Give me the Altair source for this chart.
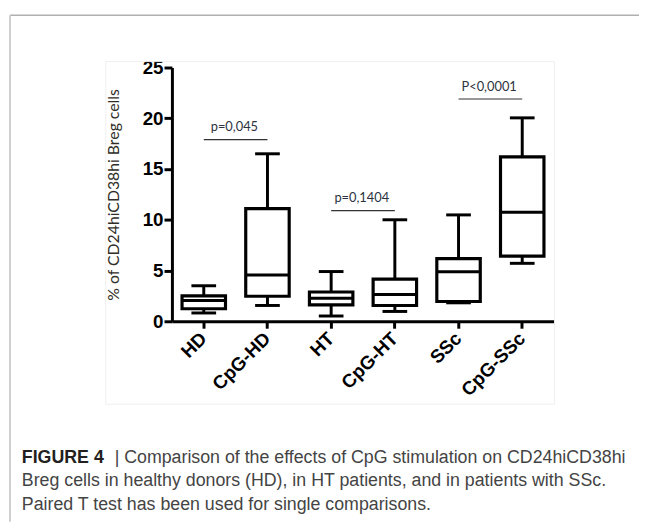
import altair as alt
import pandas as pd

# ---- data ----
groups = ["HD", "CpG-HD", "HT", "CpG-HT", "SSc", "CpG-SSc"]
whisker_low = [0.82, 1.56, 0.52, 0.97, 1.82, 5.71]
q1 = [1.24, 2.47, 1.62, 1.56, 1.95, 6.42]
median = [2.05, 4.55, 2.27, 2.63, 4.87, 10.74]
q3 = [2.50, 11.10, 2.89, 4.15, 6.17, 16.20]
whisker_high = [3.50, 16.50, 4.90, 10.00, 10.48, 20.04]

sig_left = ["HD", "HT", "SSc"]
sig_right = ["CpG-HD", "CpG-HT", "CpG-SSc"]
sig_y = [17.9, 10.9, 21.9]
sig_text = ["p=0,045", "p=0,1404", "P<0,0001"]

y_ticks = [0, 5, 10, 15, 20, 25]
y_title = "% of CD24hiCD38hi Breg cells"

caption_bold = "FIGURE 4"
caption_line1 = "| Comparison of the effects of CpG stimulation on CD24hiCD38hi"
caption_line2 = "Breg cells in healthy donors (HD), in HT patients, and in patients with SSc."
caption_line3 = "Paired T test has been used for single comparisons."

box_df = pd.DataFrame({
    "group": groups, "lo": whisker_low, "q1": q1,
    "med": median, "q3": q3, "hi": whisker_high,
})
sig_df = pd.DataFrame({"a": sig_left, "b": sig_right, "y": sig_y, "t": sig_text})

W, H = 387, 257
xscale = alt.Scale(domain=groups, paddingInner=0.2, paddingOuter=0.1)
yscale = alt.Scale(domain=[0, 25], nice=False)

x_enc = alt.X("group:N", scale=xscale, sort=groups, axis=alt.Axis(
    title=None, labelAngle=-45, labelAlign="right", labelBaseline="middle",
    labelFont="Liberation Sans", labelFontWeight="bold", labelFontSize=19,
    labelColor="black", labelPadding=7, tickSize=7, tickWidth=3, tickColor="black",
    domainWidth=3, domainColor="black"))

y_axis = alt.Axis(
    values=y_ticks, title=y_title, titleFont="Lato", titleFontSize=16,
    titleFontWeight="normal", titleColor="#2f2d26", titleAngle=-90,
    titleX=-59, titleY=H / 2, titleAlign="center", titleBaseline="middle",
    labelFont="Liberation Sans", labelFontWeight="bold", labelFontSize=19,
    labelColor="black", labelPadding=1, tickSize=8, tickWidth=3, tickColor="black",
    domainWidth=3, domainColor="black", grid=False)

base = alt.Chart(box_df)

whisk_lo = base.mark_rule(color="black", strokeWidth=3).encode(
    x=x_enc, y=alt.Y("lo:Q", scale=yscale, axis=y_axis), y2="q1:Q")
whisk_hi = base.mark_rule(color="black", strokeWidth=3).encode(
    x=x_enc, y=alt.Y("q3:Q", scale=yscale), y2="hi:Q")
boxes = base.mark_bar(fill="white", stroke="black", strokeWidth=3.2, size=44).encode(
    x=x_enc, y=alt.Y("q1:Q", scale=yscale), y2="q3:Q")
med = base.mark_tick(color="black", thickness=3, size=44, opacity=1).encode(
    x=x_enc, y=alt.Y("med:Q", scale=yscale))
cap_lo = base.mark_tick(color="black", thickness=3, size=25, opacity=1).encode(
    x=x_enc, y=alt.Y("lo:Q", scale=yscale))
cap_hi = base.mark_tick(color="black", thickness=3, size=25, opacity=1).encode(
    x=x_enc, y=alt.Y("hi:Q", scale=yscale))

sig_lines = alt.Chart(sig_df).mark_rule(color="#333333", strokeWidth=1.2).encode(
    x=alt.X("a:N", scale=xscale), x2="b:N", y=alt.Y("y:Q", scale=yscale))
sig_labels = alt.Chart(sig_df).mark_text(
    font="Lato", fontSize=13, color="#2b3340", dx=31, dy=-12.5, baseline="middle").encode(
    x=alt.X("a:N", scale=xscale), y=alt.Y("y:Q", scale=yscale), text="t:N")

one = pd.DataFrame({"k": [0]})
frame_top = alt.Chart(one).mark_rule(color="#b0b0b0", strokeWidth=1.5).encode(
    x=alt.value(-164), x2=alt.value(473), y=alt.value(-53))
frame_left = alt.Chart(one).mark_rule(color="#cfcfcf", strokeWidth=2).encode(
    x=alt.value(-164), y=alt.value(-53), y2=alt.value(460))
inner_box = alt.Chart(one).mark_rect(fillOpacity=0, stroke="#f0f0f0", strokeWidth=1).encode(
    x=alt.value(-67), x2=alt.value(387.5), y=alt.value(-6), y2=alt.value(341))


def cap(txt, x, y, bold=False, color="#444444"):
    return alt.Chart(pd.DataFrame({"t": [txt]})).mark_text(
        font="Liberation Sans", fontSize=18, fontWeight="bold" if bold else "normal",
        color=color, align="left", baseline="alphabetic").encode(
        x=alt.value(x), y=alt.value(y), text="t:N")


cap1b = cap(caption_bold, -152, 400, bold=True, color="#231f20")
cap1 = cap(caption_line1, -58, 400)
cap2 = cap(caption_line2, -152, 424)
cap3 = cap(caption_line3, -152, 448)

chart = alt.layer(
    inner_box, frame_top, frame_left,
    whisk_lo, whisk_hi, boxes, med, cap_lo, cap_hi,
    sig_lines, sig_labels, cap1b, cap1, cap2, cap3,
).properties(
    width=W, height=H,
    autosize=alt.AutoSizeParams(type="none"),
    padding={"left": 166, "top": 57, "right": 86, "bottom": 201},
).configure_view(stroke=None).configure_axis(grid=False)

chart.save("out.html", embed_options={"renderer": "svg", "actions": False})
